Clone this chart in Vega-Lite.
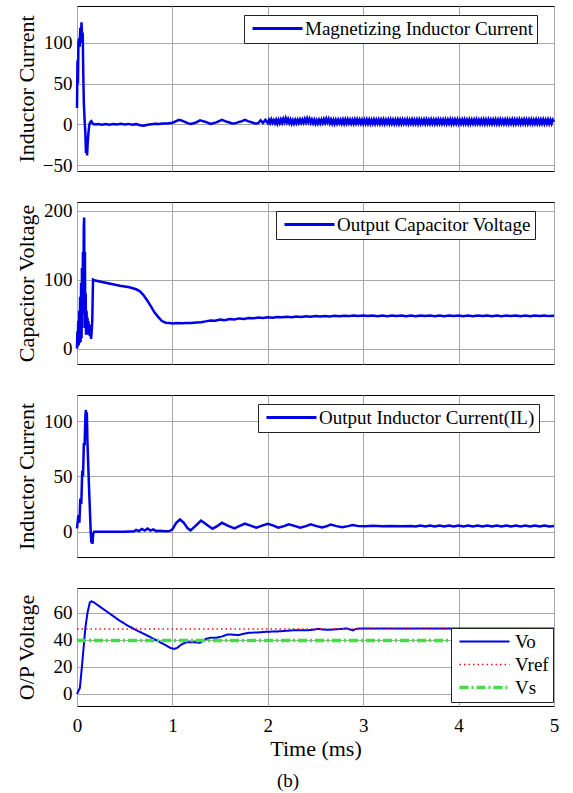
{
"$schema": "https://vega.github.io/schema/vega-lite/v6.json",
"padding": {"left": 14, "top": 5, "right": 5, "bottom": 5},
"background": "white",
"config": {
  "font": "'Liberation Serif', 'Times New Roman', 'DejaVu Serif', serif",
  "view": {"stroke": "black", "strokeWidth": 1},
  "axis": {"grid": true, "gridColor": "#a8a8a8", "gridOpacity": 1, "gridWidth": 1, "domain": false, "ticks": false, "labelFlush": false, "labelFont": "'Liberation Serif', 'Times New Roman', 'DejaVu Serif', serif", "labelFontSize": 19, "labelColor": "black", "titleFont": "'Liberation Serif', 'Times New Roman', 'DejaVu Serif', serif", "titleFontSize": 22, "titleFontWeight": "normal", "titleColor": "black"},
  "axisY": {"labelPadding": 5, "minExtent": 34, "maxExtent": 34, "titlePadding": 5},
  "axisX": {"labelPadding": 10, "titlePadding": 3},
  "legend": {"fillColor": "white", "strokeColor": "#222222", "padding": 4, "labelFont": "'Liberation Serif', 'Times New Roman', 'DejaVu Serif', serif", "labelFontSize": 19, "labelColor": "black", "labelLimit": 600, "symbolType": "M-1,0H9", "symbolSize": 100, "labelOffset": 38, "cornerRadius": 0}
},
"title": {"text": "(b)", "orient": "bottom", "anchor": "middle", "frame": "bounds", "fontSize": 19, "fontWeight": "normal", "font": "'Liberation Serif', 'Times New Roman', 'DejaVu Serif', serif", "color": "black", "offset": 12},
"spacing": 31,
"bounds": "flush",
"resolve": {"scale": {"color": "independent", "strokeDash": "independent", "strokeWidth": "independent", "y": "independent"}, "legend": {"color": "independent", "strokeDash": "independent", "strokeWidth": "independent"}},
"datasets": {
"p1": [
{"t":0,"v":20},{"t":0.005,"v":78},{"t":0.01,"v":50},{"t":0.015,"v":100},{"t":0.022,"v":105},{"t":0.028,"v":95},{"t":0.034,"v":118},{"t":0.04,"v":100},{"t":0.047,"v":125},{"t":0.053,"v":110},{"t":0.06,"v":112},{"t":0.066,"v":60},{"t":0.072,"v":25},{"t":0.08,"v":5},{"t":0.088,"v":-12},{"t":0.094,"v":-35},{"t":0.1,"v":-25},{"t":0.106,"v":-38},{"t":0.112,"v":-22},{"t":0.12,"v":-10},{"t":0.13,"v":0},{"t":0.14,"v":3},{"t":0.15,"v":4},{"t":0.165,"v":1},{"t":0.18,"v":0},
{"t":0.22,"v":0.5},{"t":0.26,"v":-0.5},{"t":0.3,"v":0.5},{"t":0.34,"v":-0.3},{"t":0.38,"v":0.6},{"t":0.42,"v":0},{"t":0.46,"v":0.8},{"t":0.5,"v":-0.2},{"t":0.54,"v":0.6},{"t":0.58,"v":-0.5},{"t":0.62,"v":0.3},{"t":0.66,"v":-1},{"t":0.7,"v":-1.5},{"t":0.74,"v":-0.5},{"t":0.78,"v":0.3},{"t":0.82,"v":0.8},{"t":0.86,"v":0.5},{"t":0.9,"v":1.2},{"t":0.95,"v":1},
{"t":1.0,"v":2},{"t":1.04,"v":4},{"t":1.07,"v":5.5},{"t":1.1,"v":4.5},{"t":1.13,"v":3},{"t":1.16,"v":1.5},{"t":1.19,"v":0.5},{"t":1.24,"v":2},{"t":1.29,"v":5},{"t":1.32,"v":4},{"t":1.35,"v":3},{"t":1.4,"v":0.5},{"t":1.46,"v":2.5},{"t":1.52,"v":5.5},{"t":1.55,"v":4},{"t":1.58,"v":3},{"t":1.62,"v":1.5},{"t":1.65,"v":1},{"t":1.7,"v":3},{"t":1.73,"v":4},{"t":1.76,"v":5.5},{"t":1.79,"v":4},{"t":1.82,"v":3},{"t":1.86,"v":1.5},{"t":1.88,"v":1},
{"t":1.9,"v":1.5},{"t":1.925,"v":5},{"t":1.95,"v":2},{"t":1.975,"v":5.5},
{"t":2.0,"v":1.5},{"t":2.0125,"v":5.5},{"t":2.025,"v":1.8},{"t":2.0375,"v":6},{"t":2.05,"v":2},{"t":2.0625,"v":5.2},{"t":2.075,"v":1.4},{"t":2.0875,"v":5.5},
{"t":2.1,"v":1},{"t":2.1125,"v":5.5},{"t":2.125,"v":1.6},{"t":2.1375,"v":6},{"t":2.15,"v":2},{"t":2.1625,"v":6.8},{"t":2.175,"v":2.8},{"t":2.1875,"v":7.5},
{"t":2.2,"v":2.5},{"t":2.2125,"v":6.5},{"t":2.225,"v":1.8},{"t":2.2375,"v":5.8},{"t":2.25,"v":1},{"t":2.2625,"v":5.2},{"t":2.275,"v":1.2},{"t":2.2875,"v":5.5},
{"t":2.3,"v":1.5},{"t":2.3125,"v":5.5},{"t":2.325,"v":1.7},{"t":2.3375,"v":5.8},{"t":2.35,"v":2},{"t":2.3625,"v":6},{"t":2.375,"v":2.2},{"t":2.3875,"v":6.5},
{"t":2.4,"v":2.5},{"t":2.4125,"v":7.2},{"t":2.425,"v":2.8},{"t":2.4375,"v":6.8},{"t":2.45,"v":2},{"t":2.4625,"v":5.8},{"t":2.475,"v":1.5},{"t":2.4875,"v":5.5},
{"t":2.5,"v":1},{"t":2.5125,"v":5.2},{"t":2.525,"v":1.2},{"t":2.5375,"v":5.5},{"t":2.55,"v":1.5},{"t":2.5625,"v":5.8},{"t":2.575,"v":1.8},{"t":2.5875,"v":6.2},
{"t":2.6,"v":2},{"t":2.6125,"v":6.8},{"t":2.625,"v":2.5},{"t":2.6375,"v":6.5},{"t":2.65,"v":1.5},{"t":2.6625,"v":5.8},{"t":2.675,"v":1.2},{"t":2.6875,"v":5.5},
{"t":2.7,"v":1},{"t":2.7125,"v":5.5},{"t":2.725,"v":1.3},{"t":2.7375,"v":5.6},{"t":2.75,"v":1.5},{"t":2.7625,"v":5.5},{"t":2.775,"v":1.2},{"t":2.7875,"v":5.7},
{"t":2.8,"v":1},{"t":2.8125,"v":5.8},{"t":2.825,"v":1.4},{"t":2.8375,"v":6},{"t":2.85,"v":1.5},{"t":2.8625,"v":5.6},{"t":2.875,"v":1.2},{"t":2.8875,"v":5.5},
{"t":2.9,"v":1},{"t":2.9125,"v":5.8},{"t":2.925,"v":1.4},{"t":2.9375,"v":6},{"t":2.95,"v":1.5},{"t":2.9625,"v":5.6},{"t":2.975,"v":1.2},{"t":2.9875,"v":5.5},
{"t":3.0,"v":1},{"t":3.0125,"v":5.5},{"t":3.025,"v":1.2},{"t":3.0375,"v":5.8},{"t":3.05,"v":1.1},{"t":3.0625,"v":5.6},{"t":3.075,"v":1},{"t":3.0875,"v":5.5},
{"t":3.1,"v":1.2},{"t":3.1125,"v":5.7},{"t":3.125,"v":1},{"t":3.1375,"v":5.5},{"t":3.15,"v":1.3},{"t":3.1625,"v":5.6},{"t":3.175,"v":0.9},{"t":3.1875,"v":5.5},
{"t":3.2,"v":1.1},{"t":3.2125,"v":5.8},{"t":3.225,"v":1},{"t":3.2375,"v":5.5},{"t":3.25,"v":1.2},{"t":3.2625,"v":5.6},{"t":3.275,"v":1},{"t":3.2875,"v":5.7},
{"t":3.3,"v":1.1},{"t":3.3125,"v":5.5},{"t":3.325,"v":1},{"t":3.3375,"v":5.6},{"t":3.35,"v":1.2},{"t":3.3625,"v":5.8},{"t":3.375,"v":0.9},{"t":3.3875,"v":5.5},
{"t":3.4,"v":1},{"t":3.4125,"v":5.6},{"t":3.425,"v":1.2},{"t":3.4375,"v":5.5},{"t":3.45,"v":1.1},{"t":3.4625,"v":5.7},{"t":3.475,"v":1},{"t":3.4875,"v":5.5},
{"t":3.5,"v":1.2},{"t":3.5125,"v":5.8},{"t":3.525,"v":1},{"t":3.5375,"v":5.5},{"t":3.55,"v":1.1},{"t":3.5625,"v":5.6},{"t":3.575,"v":0.9},{"t":3.5875,"v":5.7},
{"t":3.6,"v":1},{"t":3.6125,"v":5.5},{"t":3.625,"v":1.2},{"t":3.6375,"v":5.6},{"t":3.65,"v":1},{"t":3.6625,"v":5.8},{"t":3.675,"v":1.1},{"t":3.6875,"v":5.5},
{"t":3.7,"v":1},{"t":3.7125,"v":5.7},{"t":3.725,"v":1.2},{"t":3.7375,"v":5.5},{"t":3.75,"v":0.9},{"t":3.7625,"v":5.6},{"t":3.775,"v":1},{"t":3.7875,"v":5.8},
{"t":3.8,"v":1.1},{"t":3.8125,"v":5.5},{"t":3.825,"v":1},{"t":3.8375,"v":5.6},{"t":3.85,"v":1.2},{"t":3.8625,"v":5.7},{"t":3.875,"v":1},{"t":3.8875,"v":5.5},
{"t":3.9,"v":1.1},{"t":3.9125,"v":5.8},{"t":3.925,"v":0.9},{"t":3.9375,"v":5.5},{"t":3.95,"v":1},{"t":3.9625,"v":5.6},{"t":3.975,"v":1.2},{"t":3.9875,"v":5.7},
{"t":4.0,"v":1},{"t":4.0125,"v":5.5},{"t":4.025,"v":1.1},{"t":4.0375,"v":5.6},{"t":4.05,"v":1},{"t":4.0625,"v":5.8},{"t":4.075,"v":1.2},{"t":4.0875,"v":5.5},
{"t":4.1,"v":0.9},{"t":4.1125,"v":5.7},{"t":4.125,"v":1},{"t":4.1375,"v":5.5},{"t":4.15,"v":1.1},{"t":4.1625,"v":5.6},{"t":4.175,"v":1},{"t":4.1875,"v":5.8},
{"t":4.2,"v":1.2},{"t":4.2125,"v":5.5},{"t":4.225,"v":1},{"t":4.2375,"v":5.6},{"t":4.25,"v":1.1},{"t":4.2625,"v":5.7},{"t":4.275,"v":0.9},{"t":4.2875,"v":5.5},
{"t":4.3,"v":1},{"t":4.3125,"v":5.8},{"t":4.325,"v":1.2},{"t":4.3375,"v":5.5},{"t":4.35,"v":1},{"t":4.3625,"v":5.6},{"t":4.375,"v":1.1},{"t":4.3875,"v":5.7},
{"t":4.4,"v":1},{"t":4.4125,"v":5.5},{"t":4.425,"v":0.9},{"t":4.4375,"v":5.8},{"t":4.45,"v":1.2},{"t":4.4625,"v":5.5},{"t":4.475,"v":1},{"t":4.4875,"v":5.6},
{"t":4.5,"v":1.1},{"t":4.5125,"v":5.7},{"t":4.525,"v":1},{"t":4.5375,"v":5.5},{"t":4.55,"v":1.2},{"t":4.5625,"v":5.8},{"t":4.575,"v":0.9},{"t":4.5875,"v":5.5},
{"t":4.6,"v":1},{"t":4.6125,"v":5.6},{"t":4.625,"v":1.1},{"t":4.6375,"v":5.7},{"t":4.65,"v":1},{"t":4.6625,"v":5.5},{"t":4.675,"v":1.2},{"t":4.6875,"v":5.8},
{"t":4.7,"v":1},{"t":4.7125,"v":5.5},{"t":4.725,"v":0.9},{"t":4.7375,"v":5.6},{"t":4.75,"v":1.1},{"t":4.7625,"v":5.7},{"t":4.775,"v":1},{"t":4.7875,"v":5.5},
{"t":4.8,"v":1.2},{"t":4.8125,"v":5.8},{"t":4.825,"v":1},{"t":4.8375,"v":5.5},{"t":4.85,"v":0.9},{"t":4.8625,"v":5.6},{"t":4.875,"v":1.1},{"t":4.8875,"v":5.7},
{"t":4.9,"v":1},{"t":4.9125,"v":5.5},{"t":4.925,"v":1.2},{"t":4.9375,"v":5.8},{"t":4.95,"v":1},{"t":4.9625,"v":5.5},{"t":4.975,"v":1.1},{"t":4.9875,"v":5.6},{"t":5.0,"v":3}
],
"p2": [
{"t":0,"v":0},{"t":0.004,"v":25},{"t":0.008,"v":3},{"t":0.013,"v":40},{"t":0.018,"v":5},{"t":0.023,"v":55},{"t":0.028,"v":8},{"t":0.033,"v":75},{"t":0.038,"v":10},{"t":0.043,"v":95},{"t":0.048,"v":15},{"t":0.052,"v":117},{"t":0.057,"v":30},{"t":0.062,"v":140},{"t":0.066,"v":50},{"t":0.071,"v":175},{"t":0.075,"v":190},{"t":0.079,"v":60},{"t":0.083,"v":140},{"t":0.087,"v":30},{"t":0.091,"v":80},{"t":0.095,"v":20},{"t":0.1,"v":55},{"t":0.105,"v":25},{"t":0.11,"v":45},{"t":0.115,"v":20},{"t":0.12,"v":40},{"t":0.125,"v":25},{"t":0.13,"v":35},{"t":0.135,"v":18},{"t":0.14,"v":30},{"t":0.148,"v":14},{"t":0.155,"v":28},{"t":0.16,"v":40},{"t":0.168,"v":100},{"t":0.18,"v":99},
{"t":0.25,"v":97},{"t":0.35,"v":94},{"t":0.45,"v":91},{"t":0.55,"v":89},{"t":0.62,"v":86},{"t":0.66,"v":83},{"t":0.7,"v":77},{"t":0.74,"v":69},{"t":0.78,"v":60},{"t":0.81,"v":53},{"t":0.85,"v":46},{"t":0.89,"v":40},{"t":0.93,"v":37.5},{"t":0.97,"v":37},
{"t":1.0,"v":36.5},{"t":1.05,"v":37},{"t":1.1,"v":36.8},{"t":1.15,"v":37.3},{"t":1.2,"v":37.2},{"t":1.25,"v":38},{"t":1.3,"v":38.3},{"t":1.35,"v":39.5},
{"t":1.4,"v":40.8},{"t":1.45,"v":40.4},{"t":1.5,"v":42},{"t":1.55,"v":41.3},{"t":1.6,"v":43},{"t":1.65,"v":42.3},{"t":1.7,"v":43.8},{"t":1.75,"v":43.1},{"t":1.8,"v":44.5},{"t":1.85,"v":43.9},{"t":1.9,"v":45},{"t":1.95,"v":44.3},{"t":2.0,"v":45.5},{"t":2.05,"v":44.9},{"t":2.1,"v":45.8},{"t":2.15,"v":45.3},{"t":2.2,"v":46.2},{"t":2.25,"v":45.5},{"t":2.3,"v":46.5},{"t":2.35,"v":45.9},{"t":2.4,"v":46.8},{"t":2.45,"v":46.1},{"t":2.5,"v":47.1},{"t":2.55,"v":46.5},{"t":2.6,"v":47.3},{"t":2.65,"v":46.7},{"t":2.7,"v":47.5},{"t":2.75,"v":46.9},{"t":2.8,"v":47.7},{"t":2.85,"v":47.1},{"t":2.9,"v":47.9},{"t":2.95,"v":47.2},
{"t":3.0,"v":48},{"t":3.05,"v":47.2},{"t":3.1,"v":48},{"t":3.15,"v":47.1},{"t":3.2,"v":47.9},{"t":3.25,"v":47.1},{"t":3.3,"v":48},{"t":3.35,"v":47.2},{"t":3.4,"v":48},{"t":3.45,"v":47.1},{"t":3.5,"v":47.9},{"t":3.55,"v":47.1},{"t":3.6,"v":48},{"t":3.65,"v":47.2},{"t":3.7,"v":48},{"t":3.75,"v":47.1},{"t":3.8,"v":47.9},{"t":3.85,"v":47.1},{"t":3.9,"v":48},{"t":3.95,"v":47.2},
{"t":4.0,"v":48},{"t":4.05,"v":47.1},{"t":4.1,"v":47.9},{"t":4.15,"v":47.1},{"t":4.2,"v":48},{"t":4.25,"v":47.2},{"t":4.3,"v":48},{"t":4.35,"v":47.1},{"t":4.4,"v":47.9},{"t":4.45,"v":47.1},{"t":4.5,"v":48},{"t":4.55,"v":47.2},{"t":4.6,"v":48},{"t":4.65,"v":47.1},{"t":4.7,"v":47.9},{"t":4.75,"v":47.1},{"t":4.8,"v":48},{"t":4.85,"v":47.2},{"t":4.9,"v":48},{"t":4.95,"v":47.1},{"t":5.0,"v":47.5}
],
"p3": [
{"t":0,"v":3},{"t":0.015,"v":15},{"t":0.025,"v":8},{"t":0.035,"v":30},{"t":0.045,"v":25},{"t":0.055,"v":55},{"t":0.063,"v":50},{"t":0.072,"v":80},{"t":0.08,"v":78},{"t":0.088,"v":105},{"t":0.093,"v":110},{"t":0.098,"v":95},{"t":0.103,"v":108},{"t":0.11,"v":80},{"t":0.118,"v":60},{"t":0.126,"v":40},{"t":0.135,"v":20},{"t":0.143,"v":2},{"t":0.15,"v":-10},{"t":0.156,"v":-8},{"t":0.162,"v":-11},{"t":0.17,"v":-2},{"t":0.18,"v":0},
{"t":0.3,"v":0},{"t":0.5,"v":0},{"t":0.6,"v":0.3},{"t":0.62,"v":1.5},{"t":0.65,"v":0.5},{"t":0.68,"v":2.5},{"t":0.71,"v":1},{"t":0.74,"v":2.8},{"t":0.77,"v":1},{"t":0.8,"v":2},{"t":0.83,"v":0.5},{"t":0.87,"v":0.8},{"t":0.92,"v":0.3},{"t":0.97,"v":0.5},
{"t":1.0,"v":2},{"t":1.04,"v":8},{"t":1.08,"v":11},{"t":1.12,"v":8},{"t":1.16,"v":3},{"t":1.19,"v":1.2},{"t":1.24,"v":5},{"t":1.3,"v":10},{"t":1.35,"v":7},{"t":1.42,"v":2.7},{"t":1.47,"v":5},{"t":1.52,"v":8},{"t":1.58,"v":5.5},{"t":1.65,"v":3},{"t":1.7,"v":5},{"t":1.76,"v":7.2},{"t":1.82,"v":5.5},{"t":1.88,"v":3.6},{"t":1.94,"v":5.5},{"t":2.0,"v":7.2},{"t":2.06,"v":5.5},{"t":2.11,"v":3.6},{"t":2.17,"v":5},{"t":2.22,"v":6.6},{"t":2.28,"v":5.2},{"t":2.34,"v":3.6},{"t":2.4,"v":5},{"t":2.45,"v":6.6},{"t":2.51,"v":5},{"t":2.57,"v":3.8},{"t":2.62,"v":5},{"t":2.66,"v":6.5},{"t":2.72,"v":5},{"t":2.78,"v":4},{"t":2.84,"v":5},{"t":2.89,"v":6},{"t":2.95,"v":5},{"t":3.02,"v":4.8},{"t":3.1,"v":5.3},{"t":3.2,"v":4.9},{"t":3.3,"v":5.2},{"t":3.4,"v":5},{"t":3.5,"v":5.1},
{"t":3.55,"v":4.6},{"t":3.6,"v":5.6},{"t":3.65,"v":4.6},{"t":3.7,"v":5.6},{"t":3.75,"v":4.6},{"t":3.8,"v":5.6},{"t":3.85,"v":4.6},{"t":3.9,"v":5.6},{"t":3.95,"v":4.6},{"t":4.0,"v":5.6},{"t":4.05,"v":4.6},{"t":4.1,"v":5.6},{"t":4.15,"v":4.6},{"t":4.2,"v":5.6},{"t":4.25,"v":4.6},{"t":4.3,"v":5.6},{"t":4.35,"v":4.6},{"t":4.4,"v":5.6},{"t":4.45,"v":4.6},{"t":4.5,"v":5.6},{"t":4.55,"v":4.6},{"t":4.6,"v":5.6},{"t":4.65,"v":4.6},{"t":4.7,"v":5.6},{"t":4.75,"v":4.6},{"t":4.8,"v":5.6},{"t":4.85,"v":4.6},{"t":4.9,"v":5.6},{"t":4.95,"v":4.6},{"t":5.0,"v":5.1}
],
"p4": [
{"t":0,"v":0,"s":"Vo"},{"t":0.03,"v":4.4,"s":"Vo"},{"t":0.05,"v":19,"s":"Vo"},{"t":0.069,"v":34,"s":"Vo"},{"t":0.088,"v":49,"s":"Vo"},{"t":0.11,"v":60,"s":"Vo"},{"t":0.134,"v":67.5,"s":"Vo"},{"t":0.153,"v":68.5,"s":"Vo"},{"t":0.18,"v":67.5,"s":"Vo"},{"t":0.25,"v":64,"s":"Vo"},{"t":0.355,"v":58.8,"s":"Vo"},{"t":0.45,"v":54,"s":"Vo"},{"t":0.545,"v":50,"s":"Vo"},{"t":0.64,"v":46.5,"s":"Vo"},{"t":0.736,"v":43.2,"s":"Vo"},{"t":0.85,"v":39,"s":"Vo"},{"t":0.93,"v":36,"s":"Vo"},{"t":0.98,"v":34,"s":"Vo"},{"t":1.02,"v":33.3,"s":"Vo"},{"t":1.05,"v":34,"s":"Vo"},{"t":1.08,"v":35.8,"s":"Vo"},{"t":1.12,"v":37.5,"s":"Vo"},{"t":1.16,"v":38.3,"s":"Vo"},{"t":1.23,"v":38.3,"s":"Vo"},{"t":1.29,"v":37.8,"s":"Vo"},{"t":1.35,"v":40.7,"s":"Vo"},{"t":1.4,"v":41.5,"s":"Vo"},{"t":1.46,"v":41.5,"s":"Vo"},{"t":1.52,"v":42.5,"s":"Vo"},{"t":1.58,"v":44,"s":"Vo"},{"t":1.64,"v":43.8,"s":"Vo"},{"t":1.69,"v":43.5,"s":"Vo"},{"t":1.75,"v":44.5,"s":"Vo"},{"t":1.8,"v":45.2,"s":"Vo"},{"t":1.9,"v":45.5,"s":"Vo"},{"t":2.0,"v":46,"s":"Vo"},{"t":2.1,"v":46.2,"s":"Vo"},{"t":2.26,"v":47,"s":"Vo"},{"t":2.35,"v":47,"s":"Vo"},{"t":2.45,"v":47.2,"s":"Vo"},{"t":2.53,"v":48.1,"s":"Vo"},{"t":2.58,"v":47.6,"s":"Vo"},{"t":2.64,"v":47.4,"s":"Vo"},{"t":2.72,"v":47.8,"s":"Vo"},{"t":2.83,"v":48.4,"s":"Vo"},{"t":2.89,"v":47,"s":"Vo"},{"t":2.93,"v":48.2,"s":"Vo"},{"t":2.99,"v":48.4,"s":"Vo"},{"t":3.5,"v":48.4,"s":"Vo"},{"t":4.0,"v":48.4,"s":"Vo"},{"t":5.0,"v":48.4,"s":"Vo"},
{"t":0,"v":48,"s":"Vref"},{"t":5,"v":48,"s":"Vref"},
{"t":0,"v":39.5,"s":"Vs"},{"t":5,"v":39.5,"s":"Vs"}
]
},
"vconcat": [
{
  "width": 477, "height": 165,
  "data": {"name": "p1"},
  "mark": {"type": "line", "strokeWidth": 2.5, "interpolate": "linear"},
  "encoding": {
    "x": {"field": "t", "type": "quantitative", "scale": {"domain": [0, 5], "nice": false}, "axis": {"title": null, "labels": false, "values": [0,1,2,3,4,5]}},
    "y": {"field": "v", "type": "quantitative", "scale": {"domain": [-57, 144.8], "nice": false, "zero": false}, "axis": {"title": "Inductor Current", "values": [-50, 0, 50, 100]}},
    "color": {"datum": "Magnetizing Inductor Current", "type": "nominal", "scale": {"range": ["#0000e6"]}, "legend": {"title": null, "orient": "none", "legendX": 167, "legendY": 9, "symbolStrokeWidth": 3}}
  }
},
{
  "width": 477, "height": 162,
  "data": {"name": "p2"},
  "mark": {"type": "line", "strokeWidth": 2.5},
  "encoding": {
    "x": {"field": "t", "type": "quantitative", "scale": {"domain": [0, 5], "nice": false}, "axis": {"title": null, "labels": false, "values": [0,1,2,3,4,5]}},
    "y": {"field": "v", "type": "quantitative", "scale": {"domain": [-22.3, 212.5], "nice": false, "zero": false}, "axis": {"title": "Capacitor Voltage", "values": [0, 100, 200]}},
    "color": {"datum": "Output Capacitor Voltage", "type": "nominal", "scale": {"range": ["#0000e6"]}, "legend": {"title": null, "orient": "none", "legendX": 199, "legendY": 9, "symbolStrokeWidth": 3}}
  }
},
{
  "width": 477, "height": 162,
  "data": {"name": "p3"},
  "mark": {"type": "line", "strokeWidth": 2.5},
  "encoding": {
    "x": {"field": "t", "type": "quantitative", "scale": {"domain": [0, 5], "nice": false}, "axis": {"title": null, "labels": false, "values": [0,1,2,3,4,5]}},
    "y": {"field": "v", "type": "quantitative", "scale": {"domain": [-22.9, 123.5], "nice": false, "zero": false}, "axis": {"title": "Inductor Current", "values": [0, 50, 100]}},
    "color": {"datum": "Output Inductor Current(IL)", "type": "nominal", "scale": {"range": ["#0000e6"]}, "legend": {"title": null, "orient": "none", "legendX": 181, "legendY": 9, "symbolStrokeWidth": 3}}
  }
},
{
  "width": 477, "height": 118,
  "data": {"name": "p4"},
  "mark": {"type": "line"},
  "encoding": {
    "x": {"field": "t", "type": "quantitative", "scale": {"domain": [0, 5], "nice": false}, "axis": {"title": "Time (ms)", "values": [0,1,2,3,4,5]}},
    "y": {"field": "v", "type": "quantitative", "scale": {"domain": [-8.9, 78.3], "nice": false, "zero": false}, "axis": {"title": "O/P Voltage", "values": [0, 20, 40, 60]}},
    "color": {"field": "s", "type": "nominal", "scale": {"domain": ["Vo", "Vref", "Vs"], "range": ["#0000e6", "#ff1010", "#44dd44"]}, "legend": {"title": null, "orient": "none", "legendX": 374, "legendY": 40, "rowPadding": 3, "labelOffset": 41}},
    "strokeDash": {"field": "s", "type": "nominal", "scale": {"domain": ["Vo", "Vref", "Vs"], "range": [[1, 0], [1.5, 3], [9, 3, 2, 3]]}},
    "strokeWidth": {"field": "s", "type": "ordinal", "scale": {"type": "ordinal", "domain": ["Vo", "Vref", "Vs"], "range": [2, 1.3, 3.5]}}
  }
}
]
}
